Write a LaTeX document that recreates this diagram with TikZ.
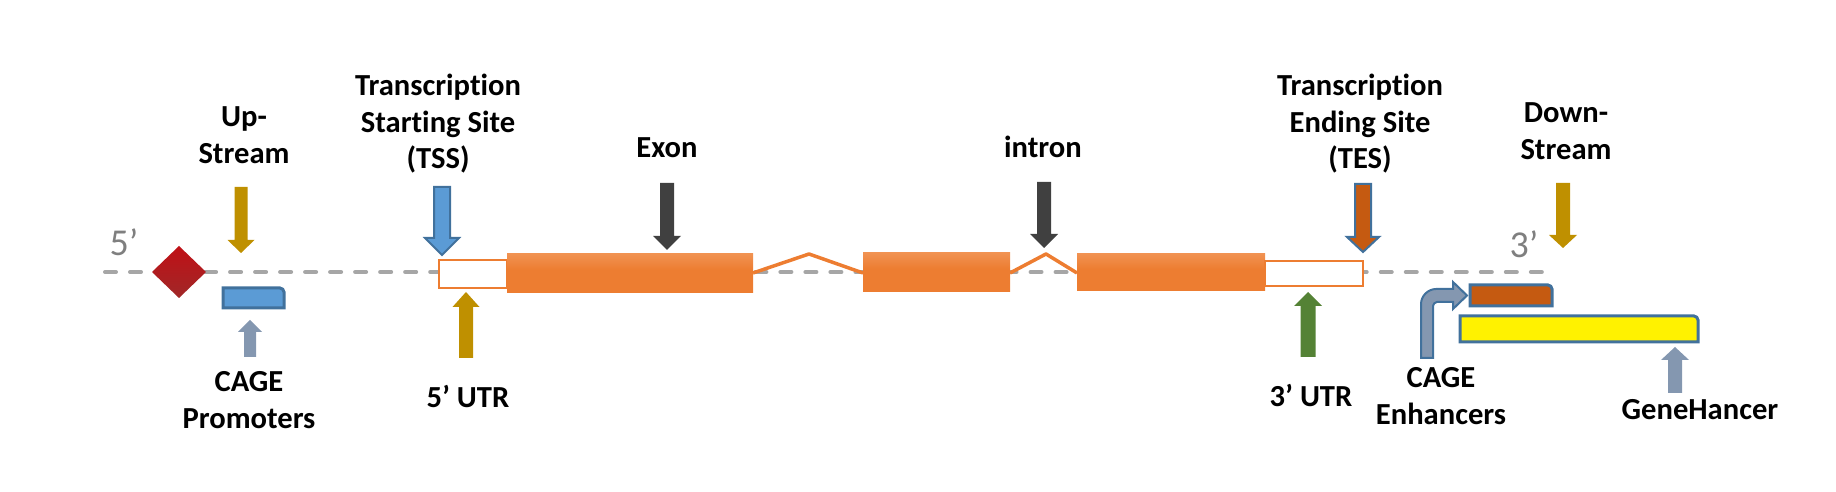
\documentclass[tikz,border=0pt]{standalone}
\usepackage{fontspec}
\setmainfont{Carlito}[Ligatures={TeX,NoCommon}]
\usepackage{tikz}

\definecolor{goldc}{RGB}{191,144,0}
\definecolor{bluec}{RGB}{91,155,213}
\definecolor{blueline}{RGB}{65,113,156}
\definecolor{exonc}{RGB}{237,125,49}
\definecolor{exonlight}{RGB}{245,172,122}
\definecolor{rustc}{RGB}{197,90,17}
\definecolor{greenc}{RGB}{84,130,53}
\definecolor{slatec}{RGB}{132,151,176}
\definecolor{darkc}{RGB}{64,64,64}
\definecolor{dashc}{RGB}{166,166,166}
\definecolor{primec}{RGB}{127,127,127}
\definecolor{redtop}{RGB}{192,16,22}
\definecolor{redbot}{RGB}{160,40,40}

\pgfdeclareverticalshading{exonshade}{100bp}{color(0bp)=(exonc); color(55bp)=(exonc); color(100bp)=(exonlight)}

% fat arrow: style, x, tail y, head y, tip y, half shaft, half head
\newcommand{\blockarrow}[7]{\draw[#1] (#2-#6,#3) -- (#2-#6,#4) -- (#2-#7,#4) -- (#2,#5) -- (#2+#7,#4) -- (#2+#6,#4) -- (#2+#6,#3) -- cycle;}
% box with one round corner: style, left, top, right, bottom
\newcommand{\tagbox}[5]{\draw[#1] (#2,#5) -- (#2,#3) -- (#4-4,#3) .. controls (#4-2,#3) and (#4,#3+2) .. (#4,#3+4) -- (#4,#5) -- cycle;}

\begin{document}
\begin{tikzpicture}[x=0.01cm,y=-0.01cm,
	lbl/.style={font=\fontsize{8.7pt}{10.4pt}\selectfont\bfseries, align=center},
	prime/.style={font=\fontsize{10.8pt}{12pt}\selectfont, text=primec},
	goldarr/.style={fill=goldc, draw=none},
	darkarr/.style={fill=darkc, draw=none},
	greenarr/.style={fill=greenc, draw=none},
	slatearr/.style={fill=slatec, draw=none},
	tssarr/.style={fill=bluec, draw=blueline, line width=0.02cm},
	tesarr/.style={fill=rustc, draw=blueline, line width=0.02cm},
	exonfill/.style={shading=exonshade},
	utr/.style={fill=white, draw=exonc, line width=0.02cm},
	intronline/.style={draw=exonc, line width=0.035cm, line join=round}]
	\useasboundingbox (0,0) rectangle (1836,492);

	\draw[dashc, line width=0.04cm, dash pattern=on 0.11cm off 0.14cm, line cap=round] (105,272) -- (1552,272);
	\shade[top color=redtop, bottom color=redbot] (179,246) -- (206,272) -- (179,298) -- (152,272) -- cycle;
	\node[prime] (fiveprime) at (124,242) {5'};
	\node[prime] (threeprime) at (1524,244) {3'};

	\draw[utr] (439,260) rectangle (507,288);
	\shade[exonfill] (507,254) rectangle (753,293);
	\draw[intronline] (753,273) -- (809,254) -- (863,273);
	\shade[exonfill] (863,253) rectangle (1010,292);
	\draw[intronline] (1010,273) -- (1046,254) -- (1077,273);
	\shade[exonfill] (1077,254) rectangle (1265,291);
	\draw[utr] (1265,261) rectangle (1363,286);

	\tagbox{fill=bluec, draw=blueline, line width=0.03cm}{223}{288}{284}{308}
	\tagbox{fill=rustc, draw=blueline, line width=0.03cm}{1470}{285}{1552}{306}
	\tagbox{fill=yellow, draw=blueline, line width=0.03cm}{1460}{316}{1698}{342}
	\draw[fill=slatec, draw=blueline, line width=0.02cm] (1421,358) -- (1421,304) .. controls (1421,296) and (1428,289) .. (1436,289) -- (1453,289) -- (1453,282) -- (1467,295.5) -- (1453,309) -- (1453,302) -- (1437,302) .. controls (1435,302) and (1433,304) .. (1433,306) -- (1433,358) -- cycle;

	\blockarrow{goldarr}{241}{187}{240}{253}{6.5}{13.5}
	\blockarrow{tssarr}{442}{187}{238}{255}{8}{17}
	\blockarrow{goldarr}{466}{358}{307}{292}{7}{13.5}
	\blockarrow{slatearr}{250}{357}{332}{320}{6}{12}
	\blockarrow{darkarr}{667}{183}{236}{250}{7}{14}
	\blockarrow{darkarr}{1044}{182}{234}{248}{7}{14}
	\blockarrow{tesarr}{1363}{184}{237}{252}{8}{16}
	\blockarrow{greenarr}{1308}{357}{306}{292}{7.5}{14}
	\blockarrow{goldarr}{1563}{183}{235}{248}{7}{14}
	\blockarrow{slatearr}{1675}{393}{360}{347}{7}{14}

	\node[lbl] (upstream) at (244,135) {Up-\\Stream};
	\node[lbl] (tss) at (438,124) {Transcription\\Starting Site\\(TSS)};
	\node[lbl] (exon) at (667,148) {Exon};
	\node[lbl] (intron) at (1043,147) {intron};
	\node[lbl] (tes) at (1360,124) {Transcription\\Ending Site\\(TES)};
	\node[lbl] (downstream) at (1566,131) {Down-\\Stream};
	\node[lbl] (cagep) at (249,400) {CAGE\\Promoters};
	\node[lbl] (utrfive) at (468,396) {5' UTR};
	\node[lbl] (utrthree) at (1311,395) {3' UTR};
	\node[lbl] (cagee) at (1441,396) {CAGE\\Enhancers};
	\node[lbl] (genehancer) at (1700,410) {GeneHancer};
\end{tikzpicture}
\end{document}
